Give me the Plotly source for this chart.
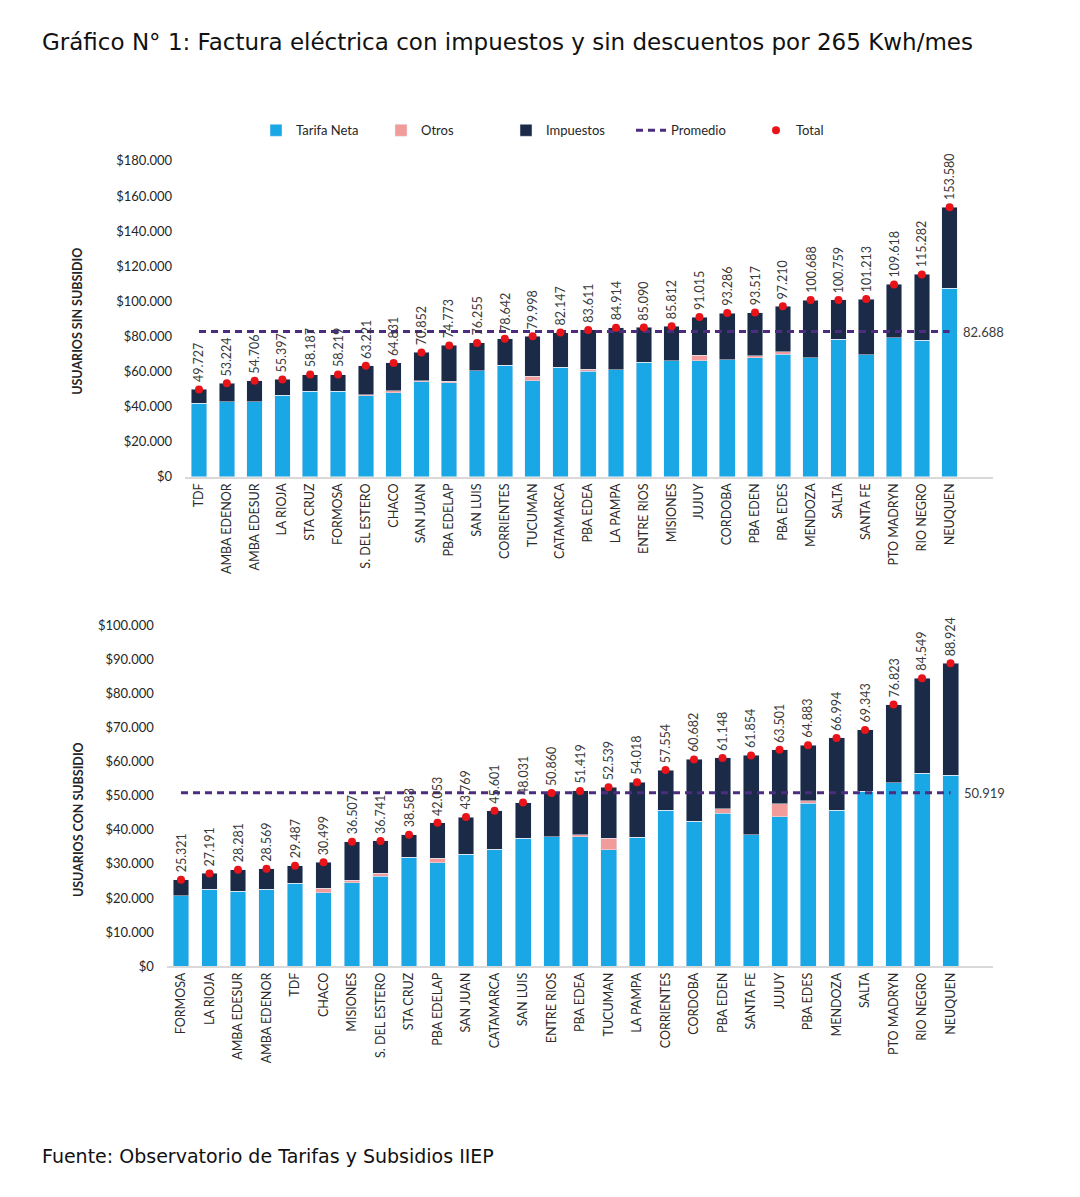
import plotly.graph_objects as go

# ---------------- DATA ----------------
cats_sin = ["TDF", "AMBA EDENOR", "AMBA EDESUR", "LA RIOJA", "STA CRUZ", "FORMOSA",
            "S. DEL ESTERO", "CHACO", "SAN JUAN", "PBA EDELAP", "SAN LUIS", "CORRIENTES",
            "TUCUMAN", "CATAMARCA", "PBA EDEA", "LA PAMPA", "ENTRE RIOS", "MISIONES",
            "JUJUY", "CORDOBA", "PBA EDEN", "PBA EDES", "MENDOZA", "SALTA", "SANTA FE",
            "PTO MADRYN", "RIO NEGRO", "NEUQUEN"]
total_sin = [49727, 53224, 54706, 55397, 58187, 58219, 63221, 64831, 70852, 74773,
             76255, 78642, 79998, 82147, 83611, 84914, 85090, 85812, 91015, 93286,
             93517, 97210, 100688, 100759, 101213, 109618, 115282, 153580]
neta_sin = [41800, 42800, 42800, 46500, 48800, 48800, 46000, 47800, 54000, 53500,
            60400, 63400, 54800, 62300, 60000, 61000, 65300, 66200, 66000, 66600,
            67900, 69800, 67900, 78200, 69400, 79200, 77900, 107300]
otros_sin = [0, 0, 0, 0, 0, 0, 800, 1200, 600, 800,
             0, 0, 2500, 0, 1200, 0, 0, 0, 3200, 0,
             1000, 1500, 0, 0, 0, 0, 0, 0]
prom_sin = 82688

cats_con = ["FORMOSA", "LA RIOJA", "AMBA EDESUR", "AMBA EDENOR", "TDF", "CHACO",
            "MISIONES", "S. DEL ESTERO", "STA CRUZ", "PBA EDELAP", "SAN JUAN", "CATAMARCA",
            "SAN LUIS", "ENTRE RIOS", "PBA EDEA", "TUCUMAN", "LA PAMPA", "CORRIENTES",
            "CORDOBA", "PBA EDEN", "SANTA FE", "JUJUY", "PBA EDES", "MENDOZA", "SALTA",
            "PTO MADRYN", "RIO NEGRO", "NEUQUEN"]
total_con = [25321, 27191, 28281, 28569, 29487, 30499, 36507, 36741, 38583, 42053,
             43769, 45601, 48031, 50860, 51419, 52539, 54018, 57554, 60682, 61148,
             61854, 63501, 64883, 66994, 69343, 76823, 84549, 88924]
neta_con = [20600, 22500, 22000, 22500, 24300, 21500, 24400, 26400, 31900, 30400,
            32900, 34300, 37500, 38000, 38000, 34100, 37800, 45700, 42600, 44900,
            38500, 43800, 47800, 45700, 51300, 53900, 56600, 56100]
otros_con = [0, 0, 0, 0, 0, 1400, 800, 800, 0, 1300,
             0, 0, 0, 0, 600, 3400, 0, 0, 0, 1300,
             0, 3900, 800, 0, 0, 0, 0, 0]
prom_con = 50919

yticks_sin = [0, 20000, 40000, 60000, 80000, 100000, 120000, 140000, 160000, 180000]
yticks_con = [0, 10000, 20000, 30000, 40000, 50000, 60000, 70000, 80000, 90000, 100000]

title_text = "Gráfico N° 1: Factura eléctrica con impuestos y sin descuentos por 265 Kwh/mes"
source_text = "Fuente: Observatorio de Tarifas y Subsidios IIEP"

# ---------------- STYLE ----------------
W, H = 1080, 1197
C_NETA = "#1AA7E5"
C_OTROS = "#F29B9B"
C_IMP = "#1B2A47"
C_PROM = "#4B2C7F"
C_TOT = "#E8141A"
FONT = "Lato"


def fmt(v):
    return "{:,}".format(int(round(v))).replace(",", ".")


def px_x(p):
    return p / W


def px_y(p):
    return 1 - p / H


fig = go.Figure()


def add_panel(cats, neta, otros, total, prom, xa, ya, show):
    imp = [t - n - o for t, n, o in zip(total, neta, otros)]
    fig.add_trace(go.Bar(x=cats, y=neta, name="Tarifa Neta", marker_color=C_NETA,
                         xaxis=xa, yaxis=ya, showlegend=show, legendgroup="a"))
    fig.add_trace(go.Bar(x=cats, y=otros, name="Otros", marker_color=C_OTROS,
                         xaxis=xa, yaxis=ya, showlegend=show, legendgroup="b"))
    fig.add_trace(go.Bar(x=cats, y=imp, name="Impuestos", marker_color=C_IMP,
                         xaxis=xa, yaxis=ya, showlegend=show, legendgroup="c"))
    fig.add_trace(go.Scatter(x=cats, y=[prom] * len(cats), name="Promedio", mode="lines",
                             line=dict(color=C_PROM, width=3, dash="7px,5px"),
                             xaxis=xa, yaxis=ya, showlegend=show, legendgroup="d"))
    fig.add_trace(go.Scatter(x=cats, y=total, name="Total", mode="markers",
                             marker=dict(color=C_TOT, size=8),
                             xaxis=xa, yaxis=ya, showlegend=show, legendgroup="e"))
    xr = "x" if xa == "x" else xa
    yr = "y" if ya == "y" else ya
    for c, t in zip(cats, total):
        fig.add_annotation(x=c, y=t, xref=xr, yref=yr, text=fmt(t), textangle=-90,
                           showarrow=False, yanchor="bottom", xanchor="center", yshift=5,
                           font=dict(family=FONT, size=12.5, color="#3a3a3a"))
    fig.add_annotation(x=cats[-1], y=prom, xref=xr, yref=yr, text=fmt(prom),
                       showarrow=False, xanchor="left", yanchor="middle", xshift=11,
                       font=dict(family=FONT, size=13, color="#3a3a3a"))


add_panel(cats_sin, neta_sin, otros_sin, total_sin, prom_sin, "x", "y", True)
add_panel(cats_con, neta_con, otros_con, total_con, prom_con, "x2", "y2", False)

xaxis_common = dict(type="category", tickangle=-90, showline=True, linecolor="#D9D9D9",
                    linewidth=1.5, showgrid=False, ticks="", zeroline=False,
                    tickfont=dict(family=FONT, size=12.5, color="#2b2b2b"))
yaxis_common = dict(showgrid=False, zeroline=False, showline=False, ticks="",
                    ticklabelstandoff=12,
                    tickfont=dict(family=FONT, size=13, color="#262626"))

fig.update_layout(
    width=W, height=H,
    margin=dict(l=0, r=0, t=0, b=0),
    paper_bgcolor="white", plot_bgcolor="white",
    barmode="stack", bargap=0.44,
    font=dict(family=FONT, color="#262626"),
    xaxis=dict(xaxis_common, domain=[px_x(185.1), px_x(993)], range=[-0.5, 28.56],
               anchor="y"),
    yaxis=dict(yaxis_common, domain=[px_y(475), px_y(155)], range=[0, 180000],
               tickvals=yticks_sin, ticktext=["$" + fmt(v) if v else "$0" for v in yticks_sin],
               anchor="x"),
    xaxis2=dict(xaxis_common, domain=[px_x(166.75), px_x(993)], range=[-0.5, 28.49],
                anchor="y2"),
    yaxis2=dict(yaxis_common, domain=[px_y(971), px_y(626)], range=[0, 100000],
                tickvals=yticks_con, ticktext=["$" + fmt(v) if v else "$0" for v in yticks_con],
                anchor="x2"),
    legend=dict(orientation="h", x=px_x(256), y=px_y(124), xanchor="left", yanchor="middle",
                traceorder="normal", font=dict(family=FONT, size=13, color="#262626"),
                entrywidth=80, bgcolor="rgba(0,0,0,0)"),
)

# Title, axis titles, source
fig.add_annotation(x=px_x(40), y=px_y(34), xref="paper", yref="paper", text=title_text,
                   showarrow=False, xanchor="left", yanchor="middle",
                   font=dict(family="DejaVu Sans", size=23, color="#111111"))
fig.add_annotation(x=px_x(40), y=px_y(1164), xref="paper", yref="paper", text=source_text,
                   showarrow=False, xanchor="left", yanchor="middle",
                   font=dict(family="DejaVu Sans", size=19, color="#111111"))
fig.add_annotation(x=px_x(78), y=px_y(317), xref="paper", yref="paper",
                   text="<b>USUARIOS SIN SUBSIDIO</b>", textangle=-90, showarrow=False,
                   xanchor="center", yanchor="middle",
                   font=dict(family=FONT, size=12.5, color="#262626"))
fig.add_annotation(x=px_x(78), y=px_y(822), xref="paper", yref="paper",
                   text="<b>USUARIOS CON SUBSIDIO</b>", textangle=-90, showarrow=False,
                   xanchor="center", yanchor="middle",
                   font=dict(family=FONT, size=12.5, color="#262626"))

fig.write_html("out.html")
